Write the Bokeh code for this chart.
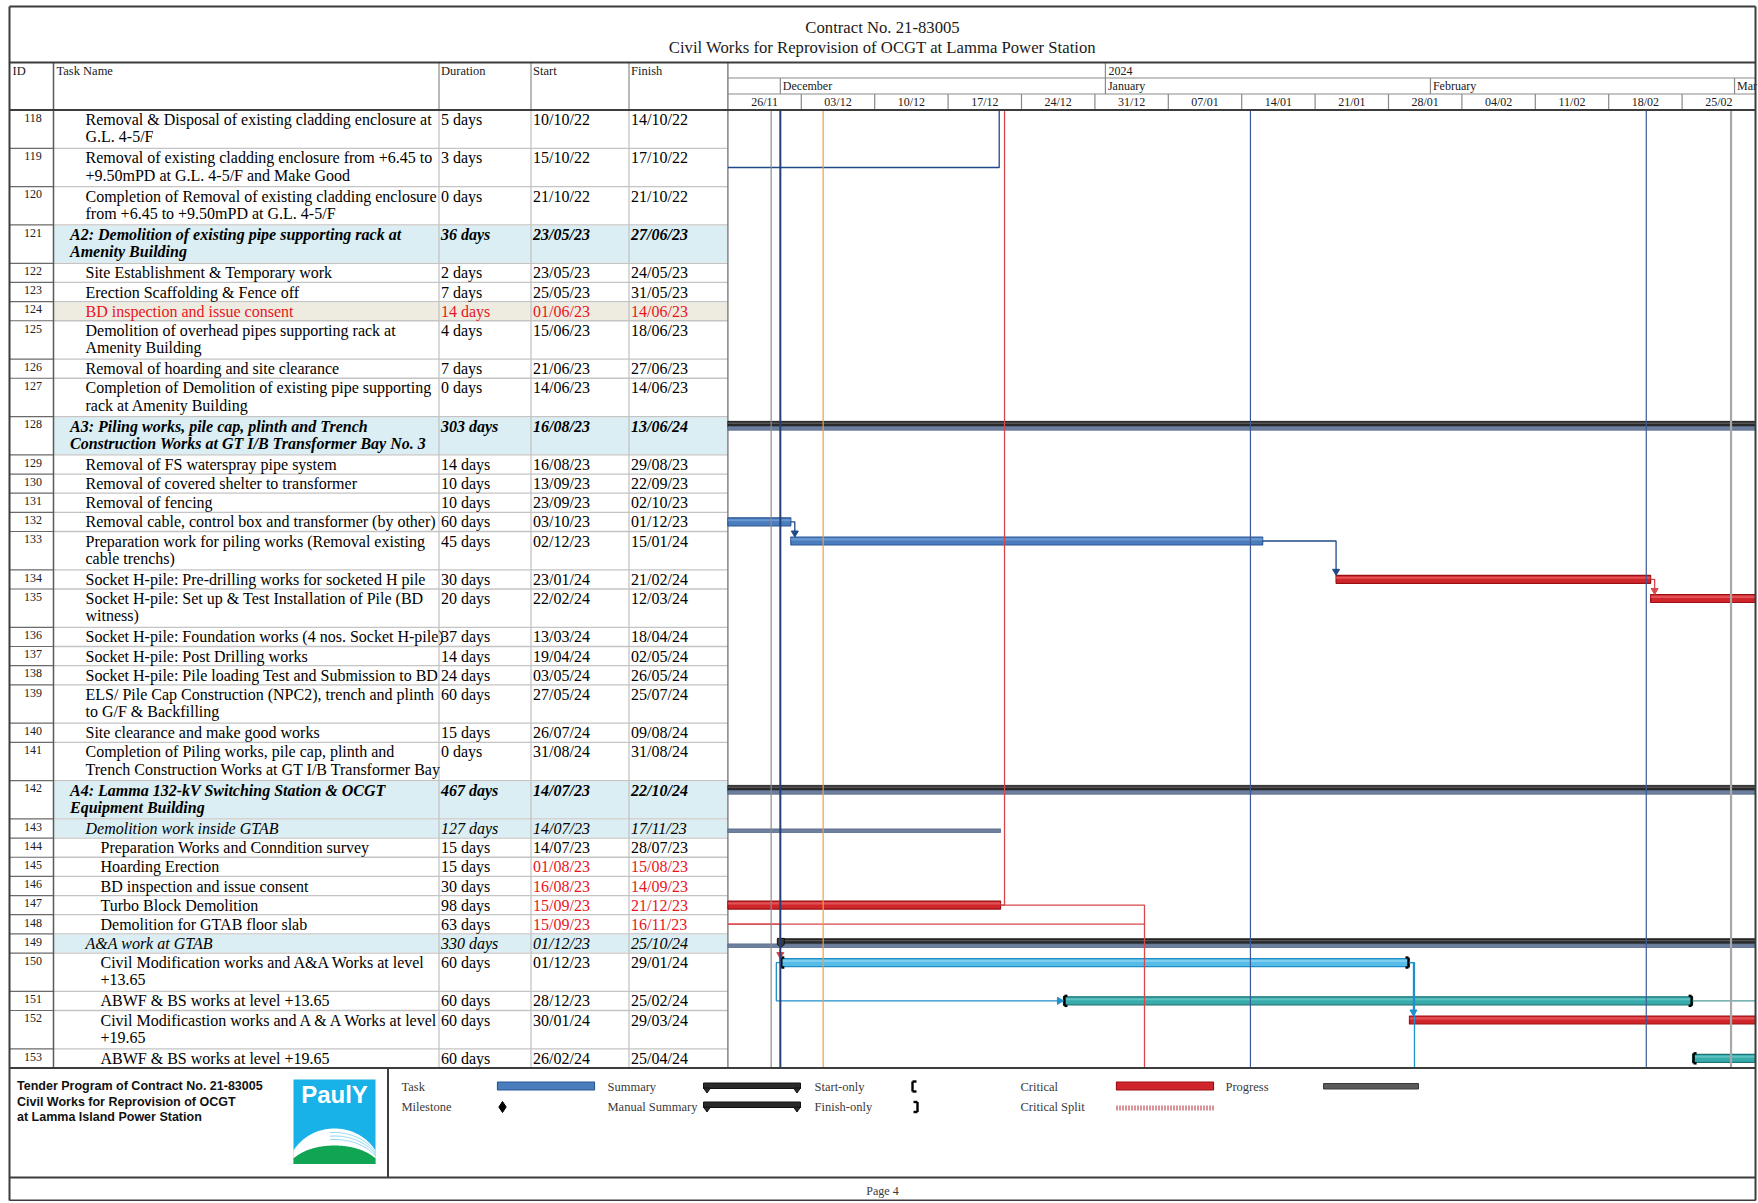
import numpy as np
import pandas as pd
from bokeh.plotting import figure
from bokeh.models import Range1d
from bokeh.core.properties import value
from bokeh.embed import file_html
from bokeh.resources import INLINE

# ---------------------------------------------------------------- data
TITLE_LINES = ["Contract No. 21-83005",
               "Civil Works for Reprovision of OCGT at Lamma Power Station"]
COLUMN_HEADERS = ["ID", "Task Name", "Duration", "Start", "Finish"]

TASK_IDS = list(range(118, 154))
TASK_NAMES = [
    "Removal & Disposal of existing cladding enclosure at\nG.L. 4-5/F",
    "Removal of existing cladding enclosure from +6.45 to\n+9.50mPD at G.L. 4-5/F and Make Good",
    "Completion of Removal of existing cladding enclosure\nfrom +6.45 to +9.50mPD at G.L. 4-5/F",
    "A2: Demolition of existing pipe supporting rack at\nAmenity Building",
    "Site Establishment & Temporary work",
    "Erection Scaffolding & Fence off",
    "BD inspection and issue consent",
    "Demolition of overhead pipes supporting rack at\nAmenity Building",
    "Removal of hoarding and site clearance",
    "Completion of Demolition of existing pipe supporting\nrack at Amenity Building",
    "A3: Piling works, pile cap, plinth and Trench\nConstruction Works at GT I/B Transformer Bay No. 3",
    "Removal of FS waterspray pipe system",
    "Removal of covered shelter to transformer",
    "Removal of fencing",
    "Removal cable, control box and transformer (by other)",
    "Preparation work for piling works (Removal existing\ncable trenchs)",
    "Socket H-pile: Pre-drilling works for socketed H pile",
    "Socket H-pile: Set up & Test Installation of Pile (BD\nwitness)",
    "Socket H-pile: Foundation works (4 nos. Socket H-pile)",
    "Socket H-pile: Post Drilling works",
    "Socket H-pile: Pile loading Test and Submission to BD",
    "ELS/ Pile Cap Construction (NPC2), trench and plinth\nto G/F & Backfilling",
    "Site clearance and make good works",
    "Completion of Piling works, pile cap, plinth and\nTrench Construction Works at GT I/B Transformer Bay",
    "A4: Lamma 132-kV Switching Station & OCGT\nEquipment Building",
    "Demolition work inside GTAB",
    "Preparation Works and Conndition survey",
    "Hoarding Erection",
    "BD inspection and issue consent",
    "Turbo Block Demolition",
    "Demolition for GTAB floor slab",
    "A&A work at GTAB",
    "Civil Modification works and A&A Works at level\n+13.65",
    "ABWF & BS works at level +13.65",
    "Civil Modificastion works and A & A Works at level\n+19.65",
    "ABWF & BS works at level +19.65",
]
DURATIONS = ["5 days", "3 days", "0 days", "36 days", "2 days", "7 days", "14 days",
             "4 days", "7 days", "0 days", "303 days", "14 days", "10 days", "10 days",
             "60 days", "45 days", "30 days", "20 days", "37 days", "14 days", "24 days",
             "60 days", "15 days", "0 days", "467 days", "127 days", "15 days", "15 days",
             "30 days", "98 days", "63 days", "330 days", "60 days", "60 days", "60 days",
             "60 days"]
STARTS = ["10/10/22", "15/10/22", "21/10/22", "23/05/23", "23/05/23", "25/05/23",
          "01/06/23", "15/06/23", "21/06/23", "14/06/23", "16/08/23", "16/08/23",
          "13/09/23", "23/09/23", "03/10/23", "02/12/23", "23/01/24", "22/02/24",
          "13/03/24", "19/04/24", "03/05/24", "27/05/24", "26/07/24", "31/08/24",
          "14/07/23", "14/07/23", "14/07/23", "01/08/23", "16/08/23", "15/09/23",
          "15/09/23", "01/12/23", "01/12/23", "28/12/23", "30/01/24", "26/02/24"]
FINISHES = ["14/10/22", "17/10/22", "21/10/22", "27/06/23", "24/05/23", "31/05/23",
            "14/06/23", "18/06/23", "27/06/23", "14/06/23", "13/06/24", "29/08/23",
            "22/09/23", "02/10/23", "01/12/23", "15/01/24", "21/02/24", "12/03/24",
            "18/04/24", "02/05/24", "26/05/24", "25/07/24", "09/08/24", "31/08/24",
            "22/10/24", "17/11/23", "28/07/23", "15/08/23", "14/09/23", "21/12/23",
            "16/11/23", "25/10/24", "29/01/24", "25/02/24", "29/03/24", "25/04/24"]
OUTLINE_LEVEL = [2, 2, 2, 1, 2, 2, 2, 2, 2, 2, 1, 2, 2, 2, 2, 2, 2, 2, 2, 2, 2, 2, 2, 2,
                 1, 2, 3, 3, 3, 3, 3, 2, 3, 3, 3, 3]
ROW_KIND = ["task", "task", "task", "sum1", "task", "task", "hl", "task", "task", "task",
            "sum1", "task", "task", "task", "task", "task", "task", "task", "task", "task",
            "task", "task", "task", "task", "sum1", "sum2", "task", "task", "task", "task",
            "task", "sum2", "task", "task", "task", "task"]
BAR_TYPE = ["task", "task", "task", "sum", "task", "task", "crit", "task", "task", "task",
            "sum", "task", "task", "task", "task", "task", "crit", "crit", "task", "task",
            "task", "task", "task", "task", "sum", "sum", "task", "crit", "crit", "crit",
            "crit", "sum", "manual", "teal", "crit", "teal"]
RED_DATE_IDS = [124, 145, 146, 147, 148]

# rolled-up (grey) summary bars
ROLLUP_IDS = [128, 142, 143, 149]
ROLLUP_STARTS = ["16/08/23", "14/07/23", "14/07/23", "15/09/23"]
ROLLUP_FINISHES = ["13/06/24", "22/10/24", "21/12/23", "25/10/24"]

# dependencies
LINKS = [(132, 133, "FS"), (133, 134, "FS"), (134, 135, "FS"),
         (148, 150, "FS"), (150, 151, "SS"), (150, 152, "FS")]
# links to tasks on other pages: (task, kind, via date)
OFFPAGE_LINKS = [(119, "left_up", "2023-12-21 21:00"),
                 (147, "up", None),
                 (147, "down", "2024-01-04 17:30"),
                 (148, "left_down", "2024-01-04 17:30"),
                 (150, "down", None),
                 (151, "right", None)]

# timescale
VIEW_START, VIEW_END = "2023-11-26", "2024-03-03"
YEAR_LABELS, YEAR_STARTS = ["2024"], ["2024-01-01"]
MONTH_LABELS = ["December", "January", "February", "Mar"]
MONTH_STARTS = ["2023-12-01", "2024-01-01", "2024-02-01", "2024-03-01"]
WEEK_LABELS = ["26/11", "03/12", "10/12", "17/12", "24/12", "31/12", "07/01", "14/01",
               "21/01", "28/01", "04/02", "11/02", "18/02", "25/02"]

# vertical date markers
MARK_DATES = ["2023-11-30 03:00", "2023-12-01 00:00", "2023-12-05 02:00",
              "2024-01-14 20:00", "2024-02-21 14:00", "2024-02-29 16:00"]
MARK_COLORS = ["#8c8c8c", "#253f77", "#f0a040", "#3b5b98", "#3b5b98", "#a8a8a8"]
MARK_WIDTHS = [1.2, 2.0, 1.2, 1.2, 1.2, 2.2]

FOOTER_LINES = ["Tender Program of Contract No. 21-83005",
                "Civil Works for Reprovision of OCGT",
                "at Lamma Island Power Station"]
LOGO_TEXT = "PaulY"
LEGEND_ROW1 = ["Task", "Summary", "Start-only", "Critical", "Progress"]
LEGEND_ROW2 = ["Milestone", "Manual Summary", "Finish-only", "Critical Split"]
PAGE_LABEL = "Page 4"

# ---------------------------------------------------------------- layout
SERIF = "Liberation Serif"
SANS = "Liberation Sans"
FW, FH = 1758, 1201
XL, XR = 9.0, 1755.0            # outer frame
YT, YB = 6.0, 1200.0
Y_TITLE_END = 62.0
Y_TIER1, Y_TIER2 = 77.5, 93.5
TABLE_TOP, UNIT = 109.5, 19.16
X_ID1, X_DUR, X_START, X_FIN = 53.0, 438.5, 530.5, 628.5
GX0, GX1 = 727.4, 1755.0        # gantt pane
INDENT = {1: 69.5, 2: 85.0, 3: 100.0}
BAR_H = 8.0

p = figure(width=FW, height=FH, x_range=Range1d(0, FW), y_range=Range1d(FH, 0),
           output_backend="svg", toolbar_location=None, min_border=0,
           x_axis_type=None, y_axis_type=None, outline_line_color=None)
p.background_fill_color = "white"
p.border_fill_color = "white"

V0, V1 = pd.Timestamp(VIEW_START), pd.Timestamp(VIEW_END)


def ms(ts):
    return pd.Timestamp(ts).value / 1e6


def dmy(s):
    return pd.to_datetime(s, format="%d/%m/%y")


KPX = (ms(V1) - ms(V0)) / (GX1 - GX0)   # ms per pixel
p.extra_x_ranges = {"t": Range1d(ms(V0) - GX0 * KPX, ms(V1) + (FW - GX1) * KPX)}
DAY = pd.Timedelta(days=1)


def seg(x0, y0, x1, y1, color, width=1.0, xr=None, dash="solid", alpha=1.0):
    kw = dict(x_range_name=xr) if xr else {}
    p.segment(x0=list(x0), y0=list(y0), x1=list(x1), y1=list(y1), line_color=color,
              line_width=width, line_dash=dash, line_alpha=alpha, **kw)


def txt(xs, ys, texts, size, font=SERIF, style="normal", color="black", align="left",
        baseline="middle", xr=None):
    kw = dict(x_range_name=xr) if xr else {}
    p.text(x=list(xs), y=list(ys), text=list(texts), text_font=value(font),
           text_font_size=value(size), text_font_style=value(style), text_color=color,
           text_align=value(align), text_baseline=value(baseline), **kw)


# ---------------------------------------------------------------- rows geometry
units = [2 if "\n" in n else 1 for n in TASK_NAMES]
tops = []
acc = TABLE_TOP
for u in units:
    tops.append(acc)
    acc += u * UNIT
bottoms = [t + u * UNIT for t, u in zip(tops, units)]
TABLE_BOTTOM = bottoms[-1]
ix = {tid: i for i, tid in enumerate(TASK_IDS)}
yc = [t + 9.5 for t in tops]

# row backgrounds
bg = {"sum1": "#daeef3", "sum2": "#daeef3", "hl": "#eeece1"}
bl, br, bt, bb, bc = [], [], [], [], []
for i, k in enumerate(ROW_KIND):
    if k in bg:
        bl.append(X_ID1 + 0.5); br.append(GX0 - 0.5)
        bt.append(tops[i] + 0.8); bb.append(bottoms[i] - 0.8); bc.append(bg[k])
p.quad(left=bl, right=br, top=bt, bottom=bb, fill_color=bc, line_color=None)

# row separators
seg([X_ID1] * len(bottoms), bottoms, [GX0] * len(bottoms), bottoms, "#c4c4c4", 1.3)
seg([XL] * len(bottoms), bottoms, [X_ID1] * len(bottoms), bottoms, "#6a6a6a", 1.2)
# column lines in body
seg([X_DUR, X_START, X_FIN], [TABLE_TOP] * 3, [X_DUR, X_START, X_FIN], [TABLE_BOTTOM] * 3,
    "#c4c4c4", 1.3)
seg([X_ID1], [Y_TITLE_END], [X_ID1], [TABLE_BOTTOM], "#5a5a5a", 1.5)
seg([X_DUR, X_START, X_FIN], [Y_TITLE_END] * 3, [X_DUR, X_START, X_FIN], [TABLE_TOP] * 3,
    "#8a8a8a", 1.2)
seg([GX0], [Y_TITLE_END], [GX0], [TABLE_BOTTOM], "#707070", 1.3)

# ---------------------------------------------------------------- table text
txt([32.5] * len(TASK_IDS), [t + 7.8 for t in tops], [str(t) for t in TASK_IDS], "12px",
    align="center", color="#202020")

styles = {"sum1": "bold italic", "sum2": "italic", "task": "normal", "hl": "normal"}
groups = {}
for i, (name, lvl, kind) in enumerate(zip(TASK_NAMES, OUTLINE_LEVEL, ROW_KIND)):
    st = styles[kind]
    ncol = "#e8141e" if kind == "hl" else "black"
    for j, line in enumerate(name.split("\n")):
        groups.setdefault((st, ncol), []).append((INDENT[lvl], tops[i] + 9.6 + j * 17.3,
                                                  line))
    groups.setdefault((st, ncol), []).append((X_DUR + 2, tops[i] + 9.6, DURATIONS[i]))
    dcol = "#e8141e" if TASK_IDS[i] in RED_DATE_IDS else "black"
    groups.setdefault((st, dcol), []).append((X_START + 2, tops[i] + 9.6, STARTS[i]))
    groups.setdefault((st, dcol), []).append((X_FIN + 2, tops[i] + 9.6, FINISHES[i]))
for (st, col), items in groups.items():
    xs, ys, ts = zip(*items)
    txt(xs, ys, ts, "16px", style=st, color=col)

# column headers
txt([12, X_ID1 + 3, X_DUR + 2, X_START + 2, X_FIN + 2], [70.0] * 5, COLUMN_HEADERS,
    "12.5px", color="#202020")

# ---------------------------------------------------------------- timescale
seg([ms(V0)] * 2, [Y_TIER1, Y_TIER2], [ms(V1)] * 2, [Y_TIER1, Y_TIER2], "#8a8a8a", 1.2,
    xr="t")
ys_ = [ms(pd.Timestamp(d)) for d in YEAR_STARTS]
seg(ys_, [Y_TITLE_END] * len(ys_), ys_, [Y_TIER1] * len(ys_), "#8a8a8a", 1.2, xr="t")
txt([x + 3 * KPX for x in ys_], [70.0] * len(ys_), YEAR_LABELS, "12px", xr="t",
    color="#202020")
mst = [ms(pd.Timestamp(d)) for d in MONTH_STARTS]
seg(mst, [Y_TIER1] * len(mst), mst, [Y_TIER2] * len(mst), "#8a8a8a", 1.2, xr="t")
txt([x + 2.5 * KPX for x in mst], [85.8] * len(mst), MONTH_LABELS, "12px", xr="t",
    color="#202020")
wst = [V0 + pd.Timedelta(days=7 * k) for k in range(len(WEEK_LABELS))]
wdiv = [ms(w) for w in wst[1:]]
seg(wdiv, [Y_TIER2] * len(wdiv), wdiv, [TABLE_TOP] * len(wdiv), "#8a8a8a", 1.2, xr="t")
txt([ms(w + pd.Timedelta(days=3.5)) for w in wst], [101.8] * len(wst), WEEK_LABELS,
    "12px", align="center", xr="t", color="#202020")

# ---------------------------------------------------------------- gantt bars
starts_ts = [dmy(s) for s in STARTS]
ends_ts = [dmy(s) + DAY for s in FINISHES]
BAR_STYLE = {"task": ("#4a7dbd", "#2b5997", "#86aee0"),
             "crit": ("#d0262b", "#9a1014", "#f07478"),
             "manual": ("#56bde9", "#1f8cc4", "#a0dcf6"),
             "teal": ("#38acac", "#1a7676", "#7fd3d3")}
bars = {k: dict(l=[], r=[], t=[], b=[], ht=[], hb=[]) for k in BAR_STYLE}
brk = dict(x0=[], y0=[], x1=[], y1=[])
for i, bt_ in enumerate(BAR_TYPE):
    if bt_ not in BAR_STYLE:
        continue
    s, e = starts_ts[i], ends_ts[i]
    if s >= V1 or e <= V0:
        continue
    L, R = ms(max(s, V0)), ms(min(e, V1))
    d = bars[bt_]
    d["l"].append(L); d["r"].append(R)
    d["t"].append(yc[i] - BAR_H / 2); d["b"].append(yc[i] + BAR_H / 2)
    d["ht"].append(yc[i] - BAR_H / 2 + 1.3); d["hb"].append(yc[i] - 0.6)
    if bt_ in ("manual", "teal"):
        if s >= V0:   # start bracket
            xs_ = ms(s) + 1 * KPX
            brk["x0"] += [xs_, xs_, xs_]; brk["x1"] += [xs_, xs_ + 3 * KPX, xs_ + 3 * KPX]
            brk["y0"] += [yc[i] - 5, yc[i] - 5, yc[i] + 5]
            brk["y1"] += [yc[i] + 5, yc[i] - 5, yc[i] + 5]
        if e <= V1:   # finish bracket
            xe_ = ms(e) - 1 * KPX
            brk["x0"] += [xe_, xe_, xe_]; brk["x1"] += [xe_, xe_ - 3 * KPX, xe_ - 3 * KPX]
            brk["y0"] += [yc[i] - 5, yc[i] - 5, yc[i] + 5]
            brk["y1"] += [yc[i] + 5, yc[i] - 5, yc[i] + 5]

# summary bars (black)
sl, sr, stp, sbt, caps_x, caps_y = [], [], [], [], [], []
for i, bt_ in enumerate(BAR_TYPE):
    if bt_ != "sum":
        continue
    s, e = starts_ts[i], ends_ts[i]
    if s >= V1 or e <= V0:
        continue
    sl.append(ms(max(s, V0))); sr.append(ms(min(e, V1)))
    stp.append(tops[i] + 4.8); sbt.append(tops[i] + 10.2)
    if s >= V0:
        x = ms(s) - 3 * KPX
        caps_x.append([x, x + 7 * KPX, x + 7 * KPX, x + 3.5 * KPX, x])
        caps_y.append([tops[i] + 4.5, tops[i] + 4.5, tops[i] + 10.5, tops[i] + 13.5,
                       tops[i] + 10.5])
p.quad(left=sl, right=sr, top=stp, bottom=sbt, fill_color="#2a2a2a", line_color="#111111",
       line_width=0.8, x_range_name="t")
p.quad(left=sl, right=sr, top=[t + 1.2 for t in stp], bottom=[t + 2.6 for t in stp],
       fill_color="#555555", line_color=None, x_range_name="t")

# rolled up grey summary bars
rl, rr, rt, rb = [], [], [], []
for tid, s, f in zip(ROLLUP_IDS, ROLLUP_STARTS, ROLLUP_FINISHES):
    s, e = dmy(s), dmy(f) + DAY
    if s >= V1 or e <= V0:
        continue
    i = ix[tid]
    rl.append(ms(max(s, V0))); rr.append(ms(min(e, V1)))
    rt.append(tops[i] + 10.0); rb.append(tops[i] + 13.6)
p.quad(left=rl, right=rr, top=rt, bottom=rb, fill_color="#6e809e", line_color="#55678a",
       line_width=0.8, x_range_name="t")
if caps_x:
    p.patches(xs=caps_x, ys=caps_y, fill_color="#3a3a3a", line_color="#111111",
              x_range_name="t")

for k, (fill, edge, hi) in BAR_STYLE.items():
    d = bars[k]
    if not d["l"]:
        continue
    p.quad(left=d["l"], right=d["r"], top=d["t"], bottom=d["b"], fill_color=fill,
           line_color=edge, line_width=1.2, x_range_name="t")
    p.quad(left=d["l"], right=d["r"], top=d["ht"], bottom=d["hb"], fill_color=hi,
           fill_alpha=0.55, line_color=None, x_range_name="t")
seg(brk["x0"], brk["y0"], brk["x1"], brk["y1"], "black", 2.4, xr="t")

# ---------------------------------------------------------------- links
LINK_COLOR = {"task": "#1f4a86", "crit": "#d8474b", "manual": "#1f8fce", "teal": "#4f9898",
              "sum": "#1f4a86"}
lx, ly, lc, ax, ay, ac = [], [], [], [], [], []


def arrow_down(x, y, c):
    ax.append([x - 3.5 * KPX, x + 3.5 * KPX, x]); ay.append([y - 6, y - 6, y]); ac.append(c)


def arrow_right(x, y, c):
    ax.append([x - 6 * KPX, x - 6 * KPX, x]); ay.append([y - 3.5, y + 3.5, y]); ac.append(c)


for a, b, kind in LINKS:
    ia, ib = ix[a], ix[b]
    c = LINK_COLOR[BAR_TYPE[ia]]
    if kind == "FS":
        xe = ms(max(ends_ts[ia], V0))
        xs_ = ms(starts_ts[ib])
        xv = xs_ if xs_ - xe > 6 * KPX else xe + 4 * KPX
        ytop = yc[ib] - BAR_H / 2
        lx.append([xe, xv, xv]); ly.append([yc[ia], yc[ia], ytop - 5]); lc.append(c)
        arrow_down(xv, ytop, c)
    else:  # SS
        xa, xb = ms(starts_ts[ia]), ms(starts_ts[ib])
        xv = xa - 4 * KPX
        lx.append([xa, xv, xv, xb - 5 * KPX]); ly.append([yc[ia], yc[ia], yc[ib], yc[ib]])
        lc.append(c)
        arrow_right(xb, yc[ib], c)

for tid, kind, via in OFFPAGE_LINKS:
    i = ix[tid]
    c = LINK_COLOR[BAR_TYPE[i]]
    xe = ms(min(ends_ts[i], V1))
    if kind == "left_up":
        xv = ms(pd.Timestamp(via)); yy = tops[i] + UNIT
        lx.append([ms(V0), xv, xv]); ly.append([yy, yy, TABLE_TOP])
    elif kind == "up":
        xv = xe + 4 * KPX
        lx.append([xe, xv, xv]); ly.append([yc[i], yc[i], TABLE_TOP])
    elif kind == "down":
        xv = ms(pd.Timestamp(via)) if via else xe + 5 * KPX
        lx.append([xe, xv, xv]); ly.append([yc[i], yc[i], TABLE_BOTTOM])
    elif kind == "left_down":
        xv = ms(pd.Timestamp(via))
        lx.append([ms(V0), xv]); ly.append([yc[i], yc[i]])
    elif kind == "right":
        lx.append([xe, ms(V1)]); ly.append([yc[i], yc[i]])
    lc.append(c)

p.multi_line(xs=lx, ys=ly, line_color=lc, line_width=1.3, x_range_name="t")
p.patches(xs=ax, ys=ay, fill_color=ac, line_color=ac, x_range_name="t")

# vertical date markers
mk = [ms(pd.Timestamp(d)) for d in MARK_DATES]
for x, c, w in zip(mk, MARK_COLORS, MARK_WIDTHS):
    seg([x], [TABLE_TOP], [x], [TABLE_BOTTOM], c, w, xr="t")

# ---------------------------------------------------------------- title
txt([882, 882], [26.5, 46.5], TITLE_LINES, "16.7px", align="center", color="#1a1a1a")

# ---------------------------------------------------------------- footer / legend
Y_LEG_END = 1177.0
txt([16.5] * 3, [1085.5, 1101.0, 1116.5], FOOTER_LINES, "12.5px", font=SANS,
    style="bold", color="#111111")

# logo
LX0, LX1, LY0, LY1 = 293.0, 375.0, 1079.0, 1163.5
p.quad(left=[LX0], right=[LX1], top=[LY0], bottom=[LY1], fill_color="#19b2e8",
       line_color=None)
cx = (LX0 + LX1) / 2
xx = np.linspace(LX0, LX1, 80)


def dome(cy, rx, ry):
    y = cy - ry * np.sqrt(np.clip(1 - ((xx - cx) / rx) ** 2, 0, None))
    return np.minimum(y, LY1)


wy = dome(1172, 47.3, 44)
p.patch(np.r_[xx, LX1, LX0], np.r_[wy, LY1, LY1], fill_color="white", line_color=None)
for ry in (40, 36.5, 33):
    p.line(xx[35:], dome(1172, 47.3, ry)[35:], line_color="#8fd6f2", line_width=1.0)
gy = dome(1172, 48, 27)
p.patch(np.r_[xx, LX1, LX0], np.r_[gy, LY1, LY1], fill_color="#10a552", line_color=None)
txt([cx], [1094], [LOGO_TEXT], "24px", font=SANS, style="bold", color="white",
    align="center")

# legend labels
LEG_X1 = [401, 607, 814, 1020, 1225]
LEG_X2 = [401, 607, 814, 1020]
txt(LEG_X1, [1086.0] * 5, LEGEND_ROW1, "12.5px", color="#3a3a3a")
txt(LEG_X2, [1106.5] * 4, LEGEND_ROW2, "12.5px", color="#3a3a3a")
# legend samples
p.quad(left=[497], right=[594], top=[1081.5], bottom=[1089.5], fill_color="#4a7dbd",
       line_color="#2b5997", line_width=1.2)
p.quad(left=[1116], right=[1213], top=[1081.5], bottom=[1089.5], fill_color="#d0262b",
       line_color="#9a1014", line_width=1.2)
p.quad(left=[1323], right=[1418], top=[1083], bottom=[1088.5], fill_color="#5a5a5a",
       line_color="#3a3a3a", line_width=1)
for yy in (1085.5, 1104.5):
    p.quad(left=[703], right=[800], top=[yy - 3], bottom=[yy + 2.5], fill_color="#2a2a2a",
           line_color="#111111")
    p.patches(xs=[[703, 710, 706.5], [793, 800, 796.5]],
              ys=[[yy + 2, yy + 2, yy + 7], [yy + 2, yy + 2, yy + 7]],
              fill_color="#2a2a2a", line_color="#111111")
p.scatter([502], [1106.5], marker="diamond", size=11, color="black")
seg([912, 912, 912], [1081, 1081, 1091], [912, 916, 916], [1091, 1081, 1091], "black", 2.4)
seg([917, 917, 917], [1101.5, 1101.5, 1111.5], [917, 913, 913], [1111.5, 1101.5, 1111.5],
    "black", 2.4)
seg([1116], [1107.5], [1213], [1107.5], "#b42a34", 5, dash="1 2")

txt([882], [1190], [PAGE_LABEL], "12px", color="#3a3a3a", align="center")

# ---------------------------------------------------------------- frame lines
hl_y = [YT, Y_TITLE_END, TABLE_TOP, TABLE_BOTTOM, Y_LEG_END, YB]
seg([XL] * len(hl_y), hl_y, [XR] * len(hl_y), hl_y, "#3c3c3c", 2.0)
seg([XL, XR, 387.5], [YT, YT, TABLE_BOTTOM], [XL, XR, 387.5], [YB, YB, Y_LEG_END],
    "#3c3c3c", 2.0)

open("out.html", "w").write(file_html(p, INLINE))
